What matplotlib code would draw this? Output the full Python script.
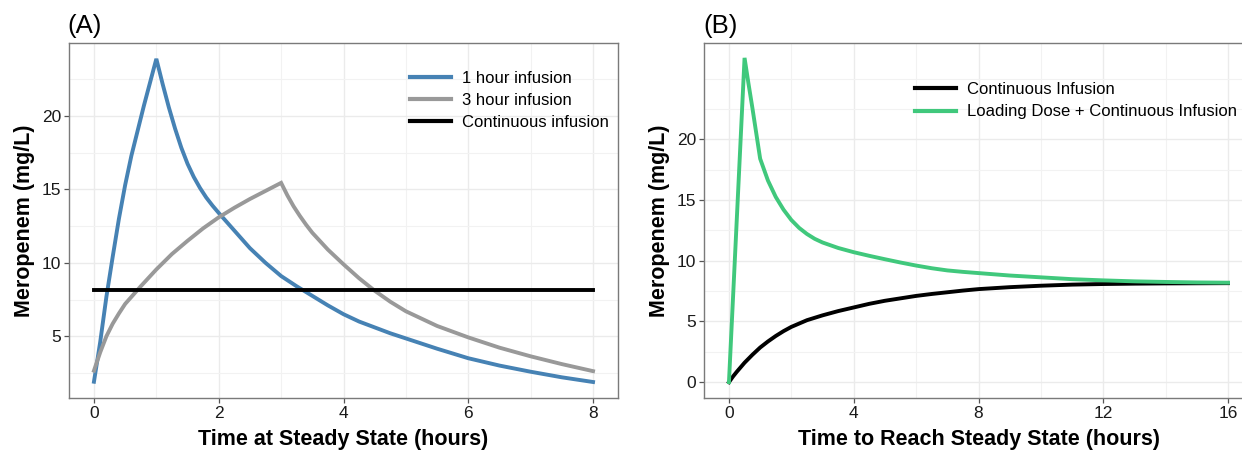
import matplotlib
matplotlib.use("Agg")
import matplotlib.pyplot as plt

plt.rcParams['font.family'] = ['Liberation Sans', 'DejaVu Sans']

# (A) concentration over one 8 h dosing interval at steady state
t_1h = [0.0, 0.1, 0.2, 0.3, 0.4, 0.5, 0.6, 0.7, 0.8, 0.9, 1.0,
        1.1, 1.2, 1.3, 1.4, 1.5, 1.6, 1.7, 1.8, 1.9, 2.0,
        2.25, 2.5, 2.75, 3.0, 3.25, 3.5, 3.75, 4.0, 4.25, 4.5, 4.75, 5.0,
        5.5, 6.0, 6.5, 7.0, 7.5, 8.0]
conc_1h = [1.9, 4.6, 7.7, 10.4, 13.0, 15.3, 17.3, 19.0, 20.7, 22.3, 23.9,
           22.2, 20.6, 19.15, 17.85, 16.75, 15.85, 15.1, 14.45, 13.9, 13.4,
           12.2, 11.0, 10.0, 9.1, 8.4, 7.75, 7.1, 6.5, 6.0, 5.6, 5.2, 4.85,
           4.15, 3.5, 3.0, 2.58, 2.2, 1.88]

t_3h = [0.0, 0.1, 0.2, 0.3, 0.4, 0.5, 0.75, 1.0, 1.25, 1.5, 1.75, 2.0,
        2.25, 2.5, 2.75, 3.0, 3.1, 3.2, 3.3, 3.4, 3.5, 3.75, 4.0, 4.25,
        4.5, 4.75, 5.0, 5.5, 6.0, 6.5, 7.0, 7.5, 8.0]
conc_3h = [2.65, 3.9, 5.0, 5.85, 6.55, 7.2, 8.4, 9.55, 10.6, 11.5, 12.35, 13.1,
           13.75, 14.35, 14.9, 15.45, 14.6, 13.85, 13.2, 12.6, 12.05, 10.9, 9.9, 8.95,
           8.1, 7.35, 6.7, 5.7, 4.92, 4.22, 3.63, 3.1, 2.62]

t_ci = [0.0, 8.0]
conc_ci = [8.16, 8.16]

# (B) approach to steady state over the first 16 h
t_cont = [0.0, 0.125, 0.25, 0.5, 0.75, 1.0, 1.25, 1.5, 1.75, 2.0, 2.5, 3.0,
          3.5, 4.0, 4.5, 5.0, 5.5, 6.0, 6.5, 7.0, 7.5, 8.0, 9.0, 10.0,
          11.0, 12.0, 13.0, 14.0, 15.0, 16.0]
conc_cont = [0.0, 0.45, 0.85, 1.6, 2.25, 2.85, 3.35, 3.8, 4.2, 4.55, 5.1, 5.5,
             5.85, 6.15, 6.45, 6.7, 6.9, 7.1, 7.26, 7.4, 7.54, 7.66, 7.82, 7.94,
             8.03, 8.08, 8.11, 8.13, 8.14, 8.15]

t_ld = [0.0, 0.5, 0.625, 0.75, 0.875, 1.0, 1.25, 1.5, 1.75, 2.0, 2.25, 2.5,
        2.75, 3.0, 3.5, 4.0, 4.5, 5.0, 5.5, 6.0, 6.5, 7.0, 7.5, 8.0, 9.0,
        10.0, 11.0, 12.0, 13.0, 14.0, 15.0, 16.0]
conc_ld = [0.0, 26.7, 24.6, 22.6, 20.5, 18.4, 16.6, 15.25, 14.2, 13.35, 12.7, 12.2,
           11.8, 11.5, 11.05, 10.7, 10.4, 10.12, 9.85, 9.6, 9.38, 9.2, 9.08, 8.98, 8.78,
           8.63, 8.48, 8.38, 8.3, 8.25, 8.21, 8.19]

W, H = 1242, 451
fig = plt.figure(figsize=(W / 100, H / 100), dpi=100)

def px_axes(left, top, right, bottom):
    return fig.add_axes([left / W, 1 - bottom / H, (right - left) / W, (bottom - top) / H])

axA = px_axes(69, 42.7, 618, 398.3)
axB = px_axes(704, 42.7, 1253, 398.3)

def style(ax, xmaj, xmin, ymaj, ymin):
    ax.set_xticks(xmaj)
    ax.set_xticks(xmin, minor=True)
    ax.set_yticks(ymaj)
    ax.set_yticks(ymin, minor=True)
    ax.grid(which='major', color='#EBEBEB', linewidth=1.0)
    ax.grid(which='minor', color='#F2F2F2', linewidth=0.8)
    ax.set_axisbelow(True)
    for s in ax.spines.values():
        s.set_color('#7A7A7A')
        s.set_linewidth(1.0)
    ax.tick_params(which='major', length=3.5, width=0.9, color='#555555',
                   labelsize=12.5, labelcolor='#1A1A1A', pad=2)
    ax.tick_params(which='minor', length=0)

lw = 2.8
axA.plot(t_1h, conc_1h, color='#4682B4', lw=lw, label='1 hour infusion', solid_joinstyle='miter')
axA.plot(t_3h, conc_3h, color='#999999', lw=lw, label='3 hour infusion', solid_joinstyle='miter')
axA.plot(t_ci, conc_ci, color='black', lw=lw, label='Continuous infusion')
axA.set_xlim(-0.4, 8.4)
axA.set_ylim(0.77, 25.0)
style(axA, [0, 2, 4, 6, 8], [1, 3, 5, 7],
      [5, 10, 15, 20], [2.5, 7.5, 12.5, 17.5, 22.5])

axB.plot(t_cont, conc_cont, color='black', lw=lw, label='Continuous Infusion')
axB.plot(t_ld, conc_ld, color='#40C87C', lw=lw, label='Loading Dose + Continuous Infusion',
         solid_joinstyle='miter')
axB.set_xlim(-0.8, 16.8)
axB.set_ylim(-1.33, 27.95)
style(axB, [0, 4, 8, 12, 16], [2, 6, 10, 14],
      [0, 5, 10, 15, 20], [2.5, 7.5, 12.5, 17.5, 22.5, 25])

for ax, xl in ((axA, 'Time at Steady State (hours)'),
               (axB, 'Time to Reach Steady State (hours)')):
    ax.set_xlabel(xl, fontsize=15.5, fontweight='bold', labelpad=6)
    ax.set_ylabel('Meropenem (mg/L)', fontsize=15.5, fontweight='bold', labelpad=5)

legA = axA.legend(loc='upper left', bbox_to_anchor=(0.622, 0.921), frameon=False,
                  fontsize=12, handlelength=2.45, handletextpad=0.65,
                  labelspacing=0.43, borderpad=0, borderaxespad=0)
legB = axB.legend(loc='upper left', bbox_to_anchor=(0.385, 0.889), frameon=False,
                  fontsize=12, handlelength=2.45, handletextpad=0.65,
                  labelspacing=0.43, borderpad=0, borderaxespad=0)
for leg in (legA, legB):
    for h in leg.get_lines():
        h.set_linewidth(3)

fig.text(67 / W, 1 - 33 / H, '(A)', fontsize=18.5, va='baseline', ha='left')
fig.text(703 / W, 1 - 33 / H, '(B)', fontsize=18.5, va='baseline', ha='left')

fig.savefig('out.png', dpi=100)
